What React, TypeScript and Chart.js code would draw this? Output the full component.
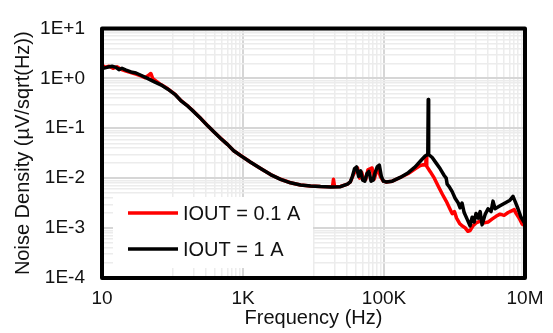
import React, { useEffect, useRef } from "react";
import { Chart, registerables } from "chart.js";

Chart.register(...registerables);

// ---- Data ----
const seriesLabels = ["IOUT = 0.1 A", "IOUT = 1 A"];
const seriesColors = ["#ff0000", "#000000"];

const freqRed = [
  10, 11.0, 12.6, 14.3, 16.3, 18.6, 21.9, 25.7, 30.3, 35.6, 40.6, 44.8, 49.3, 52.6,
  68.4, 86, 108, 131, 165, 200, 252, 316, 385, 483, 607, 738, 927, 1283, 1778, 2463,
  3412, 4725, 6546, 9062, 12560, 18600, 19200, 19900, 24100, 30300, 33300, 36800,
  39300, 42100, 45100, 48300, 51600, 55300, 59100, 63300, 67700, 72500, 77500, 83000,
  88800, 98200, 108000, 131000, 170000, 221000, 277000, 327000, 362000, 390000, 397000,
  404000, 453000, 517000, 591000, 676000, 762000, 872000, 927000, 998000, 1070000,
  1180000, 1280000, 1410000, 1550000, 1660000, 1830000, 2020000, 2310000, 2640000,
  2990000, 3400000, 3880000, 4430000, 5050000, 5760000, 6570000, 7030000, 7500000,
  8280000, 9100000, 10000000,
];
const noiseRed = [
  1.85, 1.66, 1.74, 1.59, 1.7, 1.52, 1.4, 1.31, 1.22, 1.12, 1.03, 1.12, 1.25, 0.98,
  0.75, 0.615, 0.482, 0.362, 0.279, 0.217, 0.157, 0.1125, 0.0852, 0.0628, 0.047, 0.0355,
  0.0284, 0.0209, 0.0156, 0.0118, 0.0095, 0.0081, 0.0073, 0.007, 0.0068, 0.0067, 0.0095,
  0.0067, 0.0068, 0.0076, 0.0084, 0.0118, 0.0141, 0.016, 0.01, 0.013, 0.0091, 0.0095,
  0.0147, 0.0154, 0.016, 0.0095, 0.013, 0.0147, 0.0108, 0.0087, 0.0084, 0.0087, 0.0103,
  0.0124, 0.0154, 0.0179, 0.0186, 0.0183, 0.0283, 0.0172, 0.0135, 0.01, 0.0068, 0.00471,
  0.00347, 0.00234, 0.00195, 0.00214, 0.00158, 0.00124, 0.00111, 0.00102, 0.00086,
  0.00089, 0.00111, 0.00127, 0.00138, 0.00127, 0.00132, 0.00151, 0.00172, 0.0019, 0.0018,
  0.00205, 0.00224, 0.00234, 0.00195, 0.00158, 0.00121, 0.00111,
];

const freqBlack = [
  10, 11.8, 13.9, 15.8, 17.4, 19.2, 21.9, 25.7, 30.3, 35.6, 42, 54.5, 68.4, 86, 108,
  131, 165, 200, 252, 316, 385, 483, 607, 738, 927, 1283, 1778, 2463, 3412, 4725, 6546,
  9062, 12560, 17380, 24100, 30300, 33300, 35600, 38100, 40800, 43600, 46700, 49900,
  53400, 57200, 61200, 65500, 70000, 74900, 80200, 85800, 91800, 98200, 108000, 131000,
  170000, 221000, 277000, 337000, 384000, 418000, 424000, 430000, 483000, 550000, 627000,
  714000, 762000, 787000, 840000, 927000, 1020000, 1130000, 1200000, 1280000, 1370000,
  1510000, 1660000, 1780000, 1900000, 2020000, 2160000, 2310000, 2460000, 2720000,
  2990000, 3300000, 3520000, 3760000, 4430000, 5210000, 6120000, 6760000, 7210000,
  7960000, 8770000, 10000000,
];
const noiseBlack = [
  1.56, 1.66, 1.74, 1.66, 1.49, 1.59, 1.46, 1.34, 1.28, 1.15, 1.03, 0.86, 0.74, 0.607,
  0.478, 0.359, 0.276, 0.215, 0.156, 0.1117, 0.0848, 0.0624, 0.0469, 0.0353, 0.0283,
  0.0208, 0.01556, 0.0118, 0.00948, 0.00807, 0.00729, 0.00698, 0.00677, 0.00668, 0.00675,
  0.00762, 0.0084, 0.0108, 0.01535, 0.0168, 0.0108, 0.01406, 0.00908, 0.0087, 0.01233,
  0.0137, 0.0087, 0.0091, 0.013, 0.0168, 0.0183, 0.0108, 0.0087, 0.0084, 0.0087, 0.01035,
  0.0129, 0.0168, 0.0228, 0.0277, 0.0298, 0.375, 0.0298, 0.0259, 0.02, 0.01535, 0.0113,
  0.01, 0.0076, 0.0068, 0.00537, 0.00395, 0.00318, 0.00255, 0.00318, 0.00205, 0.00151,
  0.00111, 0.00165, 0.00132, 0.00196, 0.00158, 0.00214, 0.00116, 0.00188, 0.00244,
  0.00214, 0.00347, 0.00244, 0.00279, 0.00318, 0.00362, 0.00431, 0.00347, 0.00244,
  0.00165, 0.00121,
];

// ---- Axis ticks ----
const xMajorTicks = [10, 1e3, 1e5, 1e7];
const xTickLabels = ["10", "1K", "100K", "10M"];
const xMinorDecades = [1e2, 1e4, 1e6];
const yMajorTicks = [1e-4, 1e-3, 1e-2, 1e-1, 1, 10];
const yTickLabels = ["1E-4", "1E-3", "1E-2", "1E-1", "1E+0", "1E+1"];
const yMinorDecades = [1e-4, 1e-3, 1e-2, 1e-1, 1];
const minorMultipliers = [1, 2, 3, 4, 5, 6, 7, 8, 9];

const xTitle = "Frequency (Hz)";
const yTitle = "Noise Density (µV/sqrt(Hz))";

const FONT_FAMILY = '"Liberation Sans", Arial, Helvetica, sans-serif';
const TEXT_COLOR = "#111111";
const MAJOR_GRID = "#d6d6d6";
const MINOR_GRID = "#ececec";

const near = (a: number, b: number) => Math.abs(Math.log10(a) - Math.log10(b)) < 1e-6;
const majorIndex = (list: number[], v: number) => list.findIndex((m) => near(m, v));

const xTickValues = [
  ...xMajorTicks,
  ...xMinorDecades.flatMap((d) => minorMultipliers.map((m) => m * d)),
].sort((a, b) => a - b);
const yTickValues = [
  ...yMajorTicks,
  ...yMinorDecades.flatMap((d) => minorMultipliers.slice(1).map((m) => m * d)),
].sort((a, b) => a - b);

const frameAndLegend = {
  id: "frameAndLegend",
  afterDatasetsDraw(chart: any) {
    const { ctx, chartArea: ca } = chart;
    ctx.save();
    // legend box
    const bx = ca.left + 11;
    const by = ca.bottom - 81;
    ctx.fillStyle = "#ffffff";
    ctx.fillRect(bx, by, 200, 71);
    chart.data.datasets.forEach((ds: any, i: number) => {
      const y = by + 16 + i * 36;
      ctx.strokeStyle = ds.borderColor;
      ctx.lineWidth = 3.5;
      ctx.lineCap = "butt";
      ctx.beginPath();
      ctx.moveTo(ca.left + 26, y);
      ctx.lineTo(ca.left + 76, y);
      ctx.stroke();
      ctx.fillStyle = TEXT_COLOR;
      ctx.font = `20px ${FONT_FAMILY}`;
      ctx.textBaseline = "middle";
      ctx.textAlign = "left";
      ctx.fillText(ds.label, ca.left + 81, y + 1);
    });
    // frame
    ctx.strokeStyle = "#000000";
    ctx.lineWidth = 4;
    ctx.lineJoin = "round";
    ctx.strokeRect(ca.left, ca.top, ca.right - ca.left, ca.bottom - ca.top);
    ctx.restore();
  },
};

export default function App() {
  const ref = useRef<HTMLCanvasElement | null>(null);

  useEffect(() => {
    if (!ref.current) return;
    const mk = (fs: number[], vs: number[]) => fs.map((f, i) => ({ x: f, y: vs[i] }));
    const chart = new Chart(ref.current, {
      type: "line",
      data: {
        datasets: [
          {
            label: seriesLabels[0],
            data: mk(freqRed, noiseRed),
            borderColor: seriesColors[0],
            backgroundColor: seriesColors[0],
            borderWidth: 3.5,
            pointRadius: 0,
            tension: 0,
            borderJoinStyle: "round",
            order: 2,
          },
          {
            label: seriesLabels[1],
            data: mk(freqBlack, noiseBlack),
            borderColor: seriesColors[1],
            backgroundColor: seriesColors[1],
            borderWidth: 3.5,
            pointRadius: 0,
            tension: 0,
            borderJoinStyle: "round",
            order: 1,
          },
        ],
      },
      options: {
        responsive: false,
        animation: false,
        devicePixelRatio: 1,
        layout: { padding: { top: 14, right: 28, left: 0, bottom: 0 } },
        plugins: {
          legend: { display: false },
          tooltip: { enabled: false },
        },
        scales: {
          x: {
            type: "logarithmic",
            min: 10,
            max: 1e7,
            afterBuildTicks: (scale: any) => {
              scale.ticks = xTickValues.map((v) => ({ value: v }));
            },
            afterFit: (scale: any) => {
              scale.height = 55;
            },
            ticks: {
              autoSkip: false,
              maxRotation: 0,
              minRotation: 0,
              padding: 9,
              color: TEXT_COLOR,
              font: { family: FONT_FAMILY, size: 19 },
              callback: (v: any) => {
                const i = majorIndex(xMajorTicks, Number(v));
                return i >= 0 ? xTickLabels[i] : "";
              },
            },
            grid: {
              drawTicks: false,
              color: (c: any) =>
                c.tick && majorIndex(xMajorTicks, c.tick.value) >= 0 ? MAJOR_GRID : MINOR_GRID,
              lineWidth: (c: any) =>
                c.tick && majorIndex(xMajorTicks, c.tick.value) >= 0 ? 2 : 1.5,
            },
            border: { display: false },
            title: {
              display: true,
              text: xTitle,
              color: TEXT_COLOR,
              font: { family: FONT_FAMILY, size: 20 },
              padding: { top: 0, bottom: 3 },
            },
          },
          y: {
            type: "logarithmic",
            min: 1e-4,
            max: 10,
            afterBuildTicks: (scale: any) => {
              scale.ticks = yTickValues.map((v) => ({ value: v }));
            },
            afterFit: (scale: any) => {
              scale.width = 102;
            },
            ticks: {
              autoSkip: false,
              padding: 17,
              color: TEXT_COLOR,
              font: { family: FONT_FAMILY, size: 19 },
              callback: (v: any) => {
                const i = majorIndex(yMajorTicks, Number(v));
                return i >= 0 ? yTickLabels[i] : "";
              },
            },
            grid: {
              drawTicks: false,
              color: (c: any) =>
                c.tick && majorIndex(yMajorTicks, c.tick.value) >= 0 ? MAJOR_GRID : MINOR_GRID,
              lineWidth: (c: any) =>
                c.tick && majorIndex(yMajorTicks, c.tick.value) >= 0 ? 2 : 1.5,
            },
            border: { display: false },
            title: {
              display: true,
              text: yTitle,
              color: TEXT_COLOR,
              font: { family: FONT_FAMILY, size: 20 },
              padding: { top: 11, bottom: 0 },
            },
          },
        },
      } as any,
      plugins: [frameAndLegend],
    });
    return () => chart.destroy();
  }, []);

  return (
    <div style={{ position: "absolute", left: 0, top: 0, width: 553, height: 333, background: "#fff" }}>
      <canvas ref={ref} width={553} height={333} />
    </div>
  );
}
